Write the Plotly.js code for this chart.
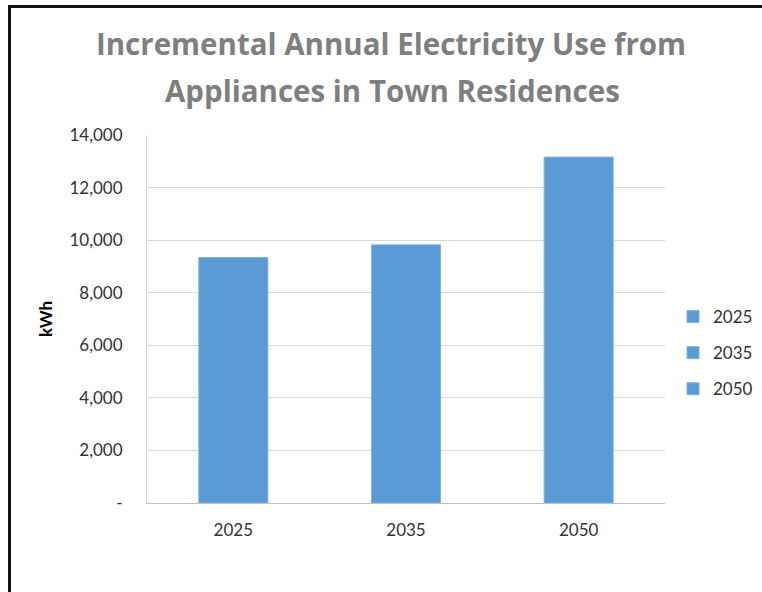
<!DOCTYPE html>
<html>
<head>
<meta charset="utf-8">
<script src="https://cdn.plot.ly/plotly-3.0.1.min.js"></script>
<style>
  html, body { margin: 0; padding: 0; background: #fff; overflow: hidden; }
  #chart { position: absolute; left: 0; top: 0; width: 820px; height: 592px; }
  #frame { position: absolute; left: 8px; top: 5px; width: 800px; height: 620px;
           border-left: 3px solid #111; border-top: 3px solid #111; pointer-events: none; }
</style>
</head>
<body>
<div id="chart"></div>
<div id="frame"></div>
<script>
const categories = ['2025', '2035', '2050'];
const values = [9340, 9820, 13160];
const yTickVals = [0, 2000, 4000, 6000, 8000, 10000, 12000, 14000];
const yTickText = ['-', '2,000', '4,000', '6,000', '8,000', '10,000', '12,000', '14,000'];
const titleLine1 = 'Incremental Annual Electricity Use from';
const titleLine2 = 'Appliances in Town Residences';
const yTitle = 'kWh';

const FONT = 'Lato, "Open Sans", sans-serif';
const TITLE_FONT = '"Open Sans", Lato, sans-serif';
const BLUE = '#5B9BD5';

const W = 820, H = 592;
const plotL = 147, plotR = 665, plotT = 135, plotB = 503;
const pw = plotR - plotL, ph = plotB - plotT;

const traces = categories.map((c, i) => ({
  type: 'bar',
  name: c,
  x: [c],
  y: [values[i]],
  width: 0.4,
  legendgroup: 'g' + i,
  marker: { color: BLUE, line: { color: '#7FB2E3', width: 1 } },
  hoverinfo: 'x+y'
}));

const layout = {
  width: W,
  height: H,
  margin: { l: plotL, r: W - plotR, t: plotT, b: H - plotB },
  paper_bgcolor: '#fff',
  plot_bgcolor: '#fff',
  barmode: 'overlay',
  font: { family: FONT, size: 17, color: '#333' },
  title: {
    text: '<b>' + titleLine1 + '</b>',
    font: { family: TITLE_FONT, size: 29.5, color: '#7F7F7F' },
    xref: 'container', yref: 'container',
    x: 391 / W, xanchor: 'center',
    y: 1 - 45 / H, yanchor: 'middle'
  },
  annotations: [{
    text: '<b>' + titleLine2 + '</b>',
    font: { family: TITLE_FONT, size: 29.5, color: '#7F7F7F' },
    xref: 'paper', yref: 'paper',
    x: (392 - plotL) / pw, xanchor: 'center',
    y: (plotB - 91) / ph, yanchor: 'middle',
    showarrow: false
  }],
  xaxis: {
    type: 'category',
    categoryorder: 'array',
    categoryarray: categories,
    showline: true,
    linecolor: '#BFBFBF',
    linewidth: 1,
    showgrid: false,
    ticks: '',
    ticklabelstandoff: 12,
    tickfont: { family: FONT, size: 17, color: '#333' },
    fixedrange: true
  },
  yaxis: {
    range: [0, 14000],
    tickvals: yTickVals,
    ticktext: yTickText,
    showline: true,
    linecolor: '#D9D9D9',
    linewidth: 1,
    gridcolor: '#D9D9D9',
    gridwidth: 1,
    zeroline: false,
    ticks: '',
    ticklabelstandoff: 20,
    tickfont: { family: FONT, size: 17, color: '#333' },
    title: { text: '<b>' + yTitle + '</b>', font: { family: FONT, size: 17, color: '#000' }, standoff: 12 },
    fixedrange: true
  },
  showlegend: true,
  legend: {
    x: (673 - plotL) / pw, xanchor: 'left',
    y: (plotB - 353) / ph, yanchor: 'middle',
    traceorder: 'grouped',
    tracegroupgap: 11,
    font: { family: FONT, size: 17, color: '#333' },
    bgcolor: 'rgba(0,0,0,0)'
  }
};

Plotly.newPlot('chart', traces, layout, { displayModeBar: false, staticPlot: true });
</script>
</body>
</html>
